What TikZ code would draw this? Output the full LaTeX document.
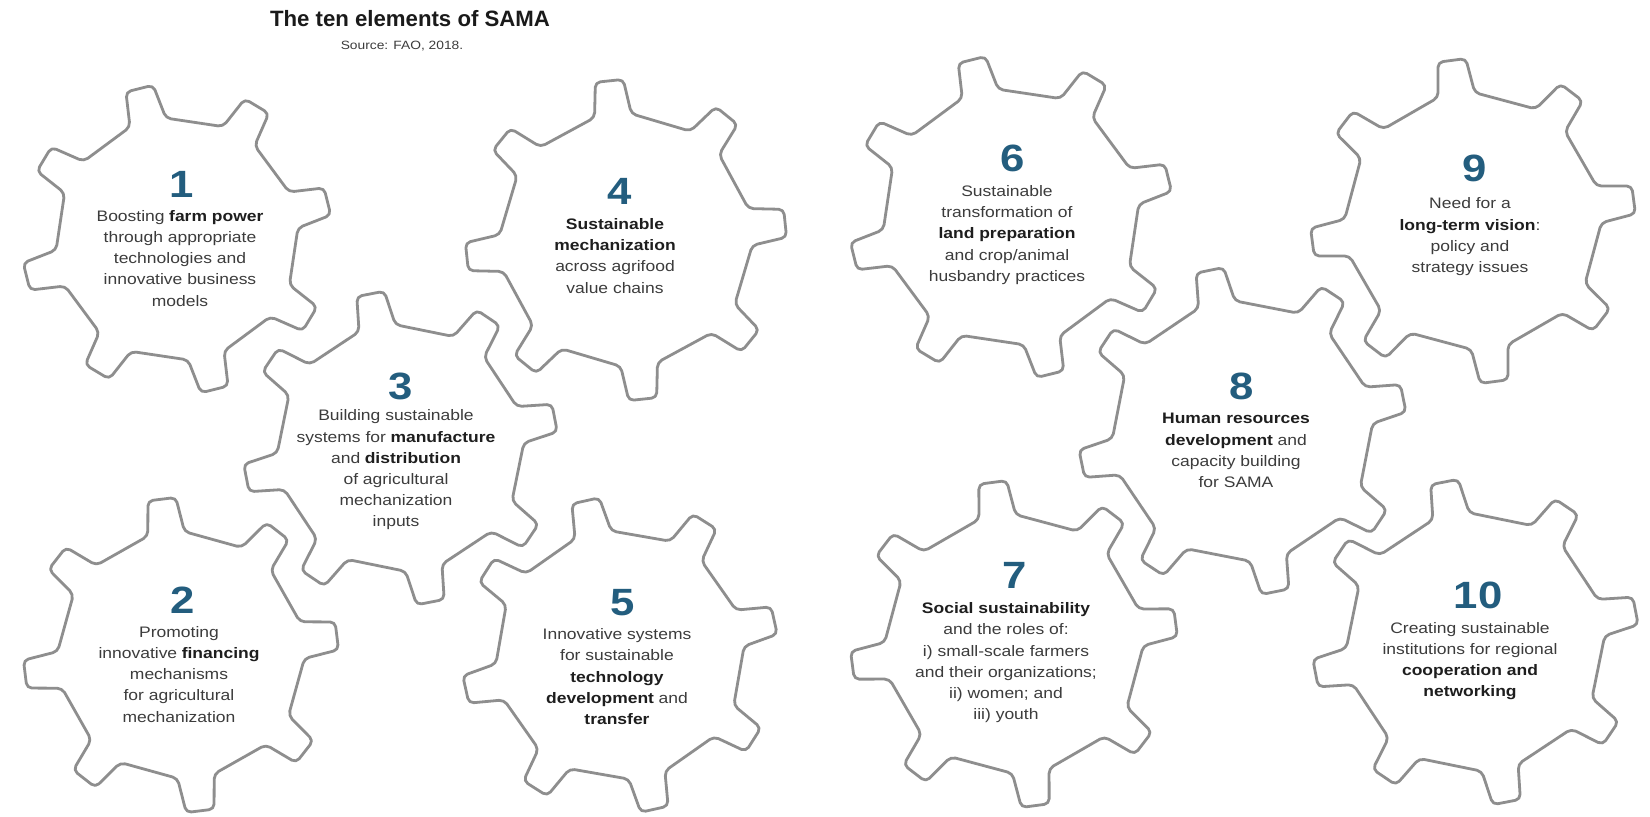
\documentclass[tikz,border=0pt]{standalone}
\usepackage{fontspec}
\setmainfont{Liberation Sans}[FakeStretch=1.15]
\newfontfamily\titlefamily{Liberation Sans}

\definecolor{gearline}{HTML}{8E8E8E}
\definecolor{numblue}{HTML}{235D7E}
\definecolor{bodytxt}{HTML}{3C3C3C}
\definecolor{boldtxt}{HTML}{1E1E1E}
\definecolor{titletxt}{HTML}{1A1A1A}

% tooth geometry (depth, half-width at root, half-width at tip)
\def\tdepth{35}
\def\wb{18.5}
\def\wt{14}

% eight-tooth gear: centre x, centre y, tip radius, angle of first tooth
\newcommand{\samagear}[4]{%
  \pgfmathsetmacro{\gR}{#3}%
  \pgfmathsetmacro{\gr}{#3-\tdepth}%
  \pgfmathsetmacro{\gm}{\gr*cos(22.5)+\wb*sin(22.5)}%
  \draw[gearstroke] ({#1+\gm*cos(#4-22.5)},{#2+\gm*sin(#4-22.5)})
    \foreach \k in {0,...,7}{
      -- ({#1+\gr*cos(#4+45*\k)+\wb*sin(#4+45*\k)},{#2+\gr*sin(#4+45*\k)-\wb*cos(#4+45*\k)})
      -- ({#1+\gR*cos(#4+45*\k)+\wt*sin(#4+45*\k)},{#2+\gR*sin(#4+45*\k)-\wt*cos(#4+45*\k)})
      -- ({#1+\gR*cos(#4+45*\k)-\wt*sin(#4+45*\k)},{#2+\gR*sin(#4+45*\k)+\wt*cos(#4+45*\k)})
      -- ({#1+\gr*cos(#4+45*\k)-\wb*sin(#4+45*\k)},{#2+\gr*sin(#4+45*\k)+\wb*cos(#4+45*\k)})
    } -- cycle;
}
\newcommand{\hl}[1]{\textbf{\color{boldtxt}#1}}
\newcommand{\gap}{\hspace{0.3em}}

\begin{document}
\begin{tikzpicture}[x=1bp,y=-1bp,
  gearstroke/.style={draw=gearline, line width=2.8bp, fill=white,
    rounded corners=5bp, line join=round},
  num/.style={font=\fontsize{38bp}{40bp}\selectfont\bfseries, text=numblue,
    inner sep=0pt, anchor=center},
  body/.style={font=\fontsize{15.2bp}{21.2bp}\selectfont, text=bodytxt,
    align=center, inner sep=0pt, anchor=center}]

\fill[white] (0,0) rectangle (1650,817);
\useasboundingbox (0,0) rectangle (1650,817);

% gears
\samagear{177}{239}{155}{-14}
\samagear{181}{655}{157}{-7}
\samagear{400.5}{448}{157}{-11}
\samagear{626}{240}{160}{-6}
\samagear{620}{655}{158}{-12.6}
\samagear{1011}{217}{162}{-14}
\samagear{1014}{644}{163}{-7.5}
\samagear{1242.5}{431}{164}{-11.5}
\samagear{1473}{221}{162}{-7.5}
\samagear{1475.5}{642}{163}{-11}

% heading
\node[font=\titlefamily\fontsize{22.2bp}{25bp}\selectfont\bfseries, text=titletxt,
  inner sep=0pt] (title) at (410,19) {The ten elements of SAMA};
\node[font=\fontsize{12bp}{14bp}\selectfont, text=bodytxt, inner sep=0pt]
  (source) at (402,46) {Source: FAO, 2018.};

% element 1
\node[num] (n1) at (182,184) {1};
\node[body] (t1) at (180,258.3) {Boosting\gap\hl{farm power}\\through appropriate\\technologies and\\innovative business\\models};
% element 2
\node[num] (n2) at (183,600) {2};
\node[body] (t2) at (179,674.3) {Promoting\\innovative\gap\hl{financing}\\mechanisms\\for agricultural\\mechanization};
% element 3
\node[num] (n3) at (401,386) {3};
\node[body] (t3) at (396,470) {Building sustainable\\systems for\gap\hl{manufacture}\\and\gap\hl{distribution}\\of agricultural\\mechanization\\inputs};
% element 4
\node[num] (n4) at (620,191.7) {4};
\node[body] (t4) at (615,255.8) {\hl{Sustainable}\\\hl{mechanization}\\across agrifood\\value chains};
% element 5
\node[num] (n5) at (623,603) {5};
\node[body] (t5) at (617,676.7) {Innovative systems\\for sustainable\\\hl{technology}\\\hl{development}\gap and\\\hl{transfer}};
% element 6
\node[num] (n6) at (1013,158.3) {6};
\node[body] (t6) at (1007,235) {Sustainable\\transformation of\\\hl{land preparation}\\and crop/animal\\husbandry practices};
% element 7
\node[num] (n7) at (1015,575) {7};
\node[body] (t7) at (1006,662.8) {\hl{Social sustainability}\\and the roles of:\\i) small-scale farmers\\and their organizations;\\ii) women; and\\iii) youth};
% element 8
\node[num] (n8) at (1242,386) {8};
\node[body] (t8) at (1236,450.5) {\hl{Human resources}\\\hl{development}\gap and\\capacity building\\for SAMA};
% element 9
\node[num] (n9) at (1475,168.3) {9};
\node[body] (t9) at (1470,236.7) {Need for a\\\hl{long-term vision}:\\policy and\\strategy issues};
% element 10
\node[num] (n10) at (1478,595.7) {10};
\node[body] (t10) at (1470,661) {Creating sustainable\\institutions for regional\\\hl{cooperation and}\\\hl{networking}};

\end{tikzpicture}
\end{document}
